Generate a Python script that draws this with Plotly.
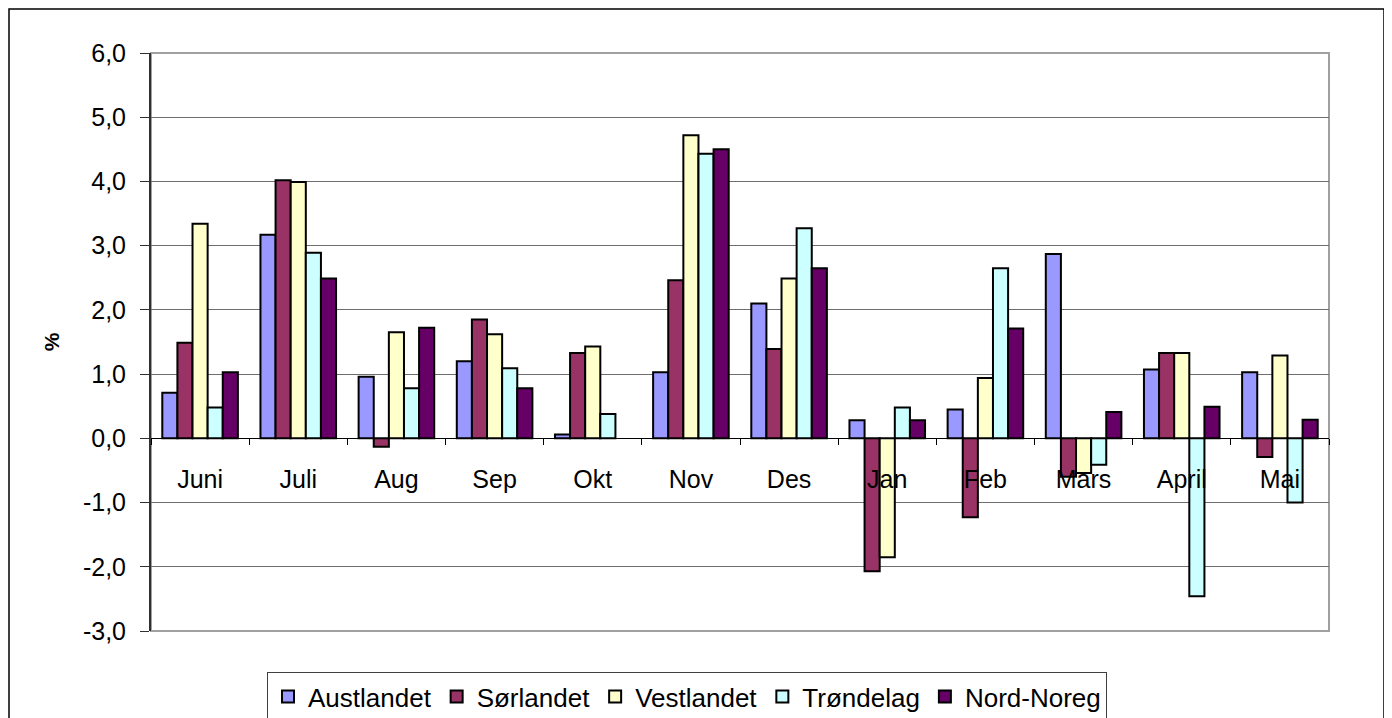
import plotly.graph_objects as go

months = ["Juni", "Juli", "Aug", "Sep", "Okt", "Nov", "Des", "Jan", "Feb", "Mars", "April", "Mai"]
austlandet = [0.71, 3.17, 0.96, 1.20, 0.06, 1.03, 2.10, 0.28, 0.45, 2.87, 1.07, 1.03]
sorlandet = [1.49, 4.02, -0.13, 1.85, 1.33, 2.46, 1.39, -2.07, -1.23, -0.60, 1.33, -0.29]
vestlandet = [3.34, 3.99, 1.65, 1.62, 1.43, 4.72, 2.49, -1.85, 0.94, -0.54, 1.33, 1.29]
trondelag = [0.48, 2.89, 0.78, 1.09, 0.38, 4.43, 3.27, 0.48, 2.65, -0.41, -2.46, -1.00]
nordnoreg = [1.03, 2.49, 1.72, 0.78, None, 4.50, 2.65, 0.28, 1.71, 0.41, 0.49, 0.29]
y_ticks = [-3, -2, -1, 0, 1, 2, 3, 4, 5, 6]
y_tick_text = ["-3,0", "-2,0", "-1,0", "0,0", "1,0", "2,0", "3,0", "4,0", "5,0", "6,0"]

series = [
    ("Austlandet", austlandet, "#9999FF"),
    ("Sørlandet", sorlandet, "#993366"),
    ("Vestlandet", vestlandet, "#FFFFCC"),
    ("Trøndelag", trondelag, "#CCFFFF"),
    ("Nord-Noreg", nordnoreg, "#660066"),
]

fig = go.Figure()
for name, vals, col in series:
    fig.add_trace(go.Bar(
        x=months, y=vals, name=name,
        marker=dict(color=col, line=dict(color="black", width=2)),
    ))

# the page places the figure 8px in from the top-left corner
OFF = 8
W, H = 1392 - OFF, 718 - OFF
L, T = 151 - OFF, 53 - OFF
R, B = W - (1329 - OFF), H - (631 - OFF)
pw, ph = W - L - R, H - T - B
FONT = "Liberation Sans, Arial, sans-serif"


def px_x(sx):
    return (sx - OFF - L) / pw


def px_y(sy):
    return (H - B - (sy - OFF)) / ph


fig.update_layout(
    width=W, height=H,
    margin=dict(l=L, r=R, t=T, b=B, autoexpand=False),
    paper_bgcolor="white", plot_bgcolor="white",
    barmode="group", bargap=0.23, bargroupgap=0,
    font=dict(family=FONT, color="black"),
    showlegend=True,
    legend=dict(
        orientation="h", x=px_x(687), xanchor="center",
        y=px_y(672), yanchor="top",
        bordercolor="#404040", borderwidth=1,
        font=dict(size=26, family=FONT),
        traceorder="normal",
    ),
    xaxis=dict(
        type="category", anchor="free", position=1 / 3,
        showline=True, linecolor="black", linewidth=1,
        ticks="outside", tickson="boundaries", ticklen=6, tickcolor="black",
        showgrid=False, zeroline=False,
        tickfont=dict(size=25, family=FONT),
        ticklabelstandoff=19,
    ),
    yaxis=dict(
        range=[-3, 6], tickvals=y_ticks, ticktext=y_tick_text,
        showline=True, linecolor="#303030", linewidth=2,
        ticks="outside", ticklen=9, tickcolor="#303030",
        showgrid=True, gridcolor="#6e6e6e", gridwidth=1,
        zeroline=False, automargin=False,
        tickfont=dict(size=25, family=FONT),
        ticklabelstandoff=9,
        title=dict(text="<b>%</b>", font=dict(size=21, family=FONT), standoff=18),
    ),
    shapes=[
        dict(type="rect", xref="paper", yref="paper", x0=0, x1=1, y0=0, y1=1,
             line=dict(color="#a0a0a0", width=2), layer="below"),
        dict(type="rect", xref="paper", yref="paper",
             x0=px_x(9), x1=px_x(1384),
             y0=px_y(760), y1=px_y(9),
             line=dict(color="black", width=1.5)),
    ],
)

fig.write_html("out.html")
